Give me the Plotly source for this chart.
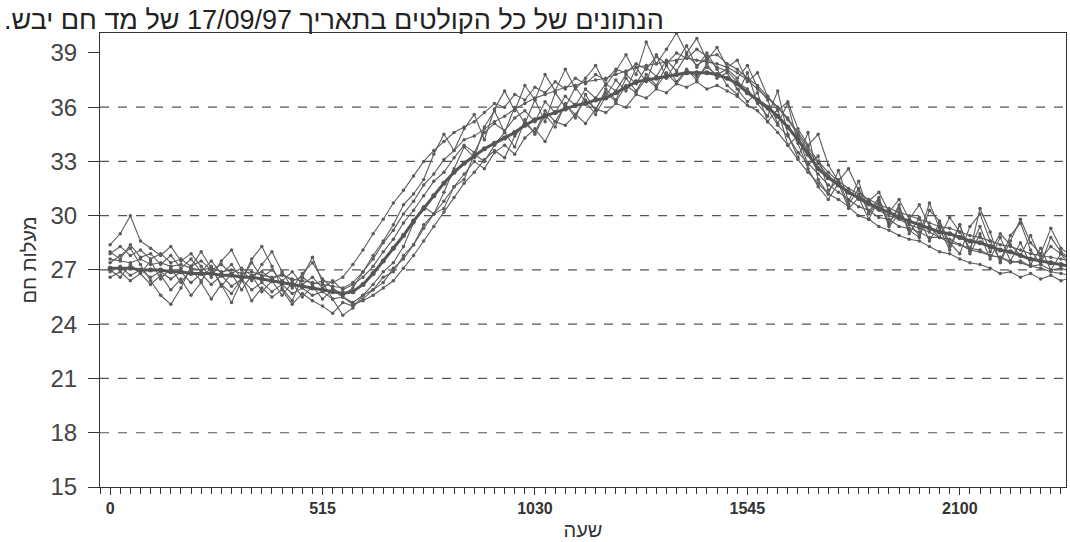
import plotly.graph_objects as go

# time index: 96 quarter-hours of the day (0 = 00:00 ... 95 = 23:45)
x_idx = list(range(96))
tick_pos = [0, 21, 42, 63, 84]
tick_labels = ["0", "515", "1030", "1545", "2100"]
y_ticks = [15, 18, 21, 24, 27, 30, 33, 36, 39]
grid_vals = [18, 21, 24, 27, 30, 33, 36]

mean_line = [
    27.1, 27.1, 27.1, 27.0, 27.0, 27.0, 26.9, 26.9, 26.8, 26.8,
    26.8, 26.7, 26.7, 26.6, 26.6, 26.5, 26.4, 26.3, 26.2, 26.1,
    26.0, 25.9, 25.8, 25.7, 25.8, 26.2, 26.8, 27.5, 28.2, 28.9,
    29.7, 30.4, 31.1, 31.8, 32.4, 32.9, 33.3, 33.7, 34.0, 34.3,
    34.6, 35.0, 35.3, 35.5, 35.7, 35.9, 36.1, 36.2, 36.4, 36.5,
    36.8, 37.1, 37.4, 37.5, 37.6, 37.7, 37.8, 37.9, 37.9, 37.9,
    37.8, 37.6, 37.3, 36.8, 36.4, 36.0, 35.5, 34.9, 34.2, 33.4,
    32.6, 32.1, 31.7, 31.3, 31.0, 30.7, 30.4, 30.2, 29.9, 29.7,
    29.5, 29.3, 29.1, 29.0, 28.8, 28.6, 28.5, 28.3, 28.1, 28.0,
    27.8, 27.6, 27.5, 27.4, 27.3, 27.2]

s1 = [
    28.4, 29.0, 30.0, 28.6, 28.2, 27.8, 28.3, 27.5, 27.9, 27.2,
    26.6, 27.5, 28.1, 27.0, 26.4, 27.3, 28.0, 26.9, 26.0, 26.8,
    27.4, 26.5, 26.0, 25.6, 26.0, 26.9, 27.8, 28.6, 29.5, 30.6,
    31.2, 32.0, 33.4, 34.5, 33.6, 34.8, 35.6, 34.2, 35.9, 36.9,
    35.8, 37.2, 36.4, 37.8, 36.9, 38.1, 37.0, 37.6, 38.3, 37.2,
    38.0, 38.9, 37.8, 39.6, 38.4, 39.2, 40.1, 39.0, 39.8, 38.6,
    39.3, 38.2, 38.6, 37.4, 37.9, 36.6, 35.8, 36.3, 34.8, 33.9,
    34.5, 32.8, 31.9, 32.6, 31.4, 30.8, 31.3, 30.2, 30.9, 29.8,
    30.6, 29.4, 28.8, 29.9, 29.1, 28.2, 29.4, 28.0, 29.0, 28.4,
    27.8, 28.9, 27.6, 28.3, 27.9, 27.5]

s2 = [
    26.6, 26.9, 26.4, 26.8, 26.2, 26.7, 25.9, 26.5, 25.6, 26.3,
    25.4, 26.2, 25.7, 26.5, 25.3, 26.0, 25.5, 25.9, 25.1, 25.7,
    25.3, 25.0, 24.6, 25.2, 25.0, 25.4, 25.9, 26.3, 27.1, 27.6,
    28.4, 29.3, 30.1, 30.8, 31.6, 32.3, 33.0, 32.6, 33.5, 33.9,
    33.4, 34.3, 34.8, 34.1, 35.2, 35.0, 35.6, 35.1, 35.9, 35.7,
    36.2, 36.0, 36.7, 36.5, 37.0, 36.8, 37.3, 37.1, 37.4, 37.0,
    37.2, 36.9, 36.6, 36.1, 35.8, 35.2, 34.6, 33.9, 33.1, 32.4,
    31.8, 31.2, 30.9, 30.5, 30.0, 29.8, 29.4, 29.2, 28.9, 28.7,
    28.6, 28.3, 28.0, 27.9, 27.6, 27.4, 27.3, 27.1, 26.8, 26.9,
    26.6, 26.8, 26.5, 26.7, 26.4, 26.6]

s3 = [
    27.4, 27.8, 28.2, 27.3, 26.4, 25.6, 25.1, 26.0, 27.2, 28.0,
    27.1, 26.2, 25.2, 26.4, 27.6, 28.3, 27.2, 26.0, 25.3, 26.6,
    27.7, 26.3, 25.4, 24.5, 24.9, 25.6, 26.2, 26.9, 27.4, 28.3,
    29.6, 30.5, 30.1, 31.3, 32.6, 33.8, 33.2, 34.9, 35.8, 34.6,
    36.0, 35.1, 36.4, 35.2, 36.8, 36.0, 37.1, 36.3, 35.6, 36.6,
    37.5, 36.9, 38.2, 37.4, 38.9, 37.6, 38.5, 39.4, 38.2, 39.0,
    38.1, 37.2, 36.7, 37.9, 36.2, 35.5, 36.9, 34.5, 33.2, 34.6,
    32.0, 31.2, 32.5, 30.8, 31.9, 30.2, 31.0, 29.6, 30.4, 29.2,
    28.8, 30.3, 29.7, 28.5, 27.9, 29.4, 30.1, 28.6, 27.5, 28.9,
    29.6, 28.1, 27.3, 28.8, 28.0, 27.6]

s4 = [
    27.6, 27.5, 27.4, 27.6, 27.3, 27.4, 27.2, 27.3, 27.1, 27.0,
    27.1, 26.9, 27.0, 26.8, 26.9, 26.7, 26.6, 26.7, 26.5, 26.4,
    26.3, 26.2, 26.1, 26.0, 26.3, 26.9, 27.6, 28.5, 29.2, 30.1,
    30.8, 31.7, 32.3, 33.1, 33.6, 34.2, 34.4, 34.8, 35.2, 35.5,
    35.9, 36.2, 36.5, 36.7, 36.9, 37.1, 37.2, 37.4, 37.5, 37.6,
    37.8, 38.0, 38.2, 38.3, 38.4, 38.5, 38.6, 38.7, 38.6, 38.5,
    38.4, 38.2, 37.9, 37.5, 37.0, 36.5, 36.0, 35.4, 34.6, 33.8,
    33.0, 32.4, 31.9, 31.5, 31.2, 30.9, 30.6, 30.4, 30.2, 30.0,
    29.8, 29.6, 29.4, 29.3, 29.1, 28.9, 28.8, 28.6, 28.4, 28.3,
    28.1, 27.9, 27.8, 27.7, 27.6, 27.5]

s5 = [
    27.0, 26.6, 27.3, 26.8, 27.5, 26.5, 27.1, 26.3, 27.0, 26.4,
    27.2, 26.1, 26.8, 25.9, 26.7, 25.8, 26.4, 25.6, 26.3, 25.5,
    26.1, 25.4, 25.9, 25.5, 25.2, 25.6, 25.9, 26.6, 26.9, 27.8,
    28.4, 29.5, 30.1, 30.4, 31.6, 32.0, 33.4, 33.0, 33.9, 34.6,
    33.8, 35.3, 34.5, 35.6, 34.9, 36.2, 35.4, 36.7, 35.8, 37.0,
    36.4, 37.6, 36.9, 37.8, 37.2, 38.3, 37.4, 38.1, 37.5, 38.4,
    37.6, 37.9, 37.0, 36.3, 36.8, 35.2, 35.9, 33.9, 34.4, 32.8,
    33.3, 31.4, 32.0, 30.6, 31.5, 30.1, 30.8, 29.5, 30.6, 29.0,
    29.9, 28.6, 29.6, 28.3, 29.5, 27.9, 29.0, 27.6, 28.8, 27.5,
    28.5, 27.3, 28.2, 27.0, 27.9, 27.1]

s6 = [
    27.9, 28.3, 27.8, 28.1, 27.6, 27.9, 27.4, 27.6, 27.2, 27.5,
    27.0, 27.3, 26.8, 27.1, 26.7, 26.9, 26.5, 26.8, 26.4, 26.6,
    26.2, 26.4, 26.3, 26.6, 27.3, 28.1, 29.0, 29.8, 30.7, 31.4,
    32.2, 33.0, 33.6, 34.1, 34.6, 34.9, 35.2, 35.7, 36.2, 36.0,
    36.7, 36.4, 37.1, 36.8, 37.4, 37.0, 37.6, 37.3, 37.8, 37.5,
    38.1, 37.9, 38.4, 38.1, 38.8, 38.4, 39.0, 38.7, 39.2, 38.8,
    38.9, 38.4, 38.1, 37.6, 37.2, 36.6, 36.0, 35.3, 34.5, 33.6,
    32.9, 32.2, 31.8, 31.3, 30.9, 30.6, 30.3, 30.0, 29.8, 29.5,
    29.3, 29.1, 28.8, 28.7, 28.4, 28.2, 28.1, 27.8, 27.7, 27.5,
    27.4, 27.2, 27.1, 26.9, 26.8, 26.7]

s7 = [
    26.9, 27.2, 26.7, 27.0, 26.6, 26.9, 26.5, 26.9, 26.3, 26.8,
    26.2, 26.7, 26.1, 26.5, 25.9, 26.3, 25.8, 26.2, 25.7, 26.0,
    25.6, 25.8, 25.4, 25.5, 25.1, 25.3, 25.6, 26.0, 26.4, 27.1,
    27.8, 28.6, 29.4, 30.2, 31.0, 31.8, 32.4, 33.1, 33.6, 33.2,
    34.4, 35.1, 34.6, 35.8, 35.2, 36.1, 35.6, 36.4, 35.9, 36.8,
    36.3, 37.2, 36.8, 37.6, 37.1, 37.9, 37.3, 38.0, 37.7, 38.2,
    37.8, 38.1, 37.6, 38.3, 37.1, 36.4, 35.1, 36.2, 34.0, 32.6,
    31.6, 30.9, 31.8, 30.4, 31.0, 29.8, 30.9, 29.4, 30.1, 29.6,
    28.9, 30.7, 29.3, 28.1, 29.5, 28.0, 30.4, 29.1, 27.4, 28.6,
    29.8, 28.5, 27.9, 29.3, 28.2, 27.8]

s8 = [
    28.0, 27.6, 28.4, 27.7, 27.9, 27.3, 27.8, 27.1, 27.6, 26.9,
    27.5, 26.8, 27.3, 26.5, 27.4, 26.6, 27.0, 26.4, 26.9, 26.2,
    26.6, 26.0, 26.4, 25.9, 26.2, 26.6, 27.2, 28.0, 28.7, 29.6,
    30.3, 31.1, 31.9, 32.4, 33.2, 33.9, 33.5, 34.6, 35.1, 34.7,
    35.4, 35.8, 35.2, 36.3, 35.7, 36.6, 36.1, 37.0, 36.5, 37.3,
    36.9, 37.8, 37.3, 38.2, 37.7, 38.6, 38.0, 38.9, 38.3, 38.7,
    38.2, 38.0, 37.4, 37.0, 36.3, 35.9, 35.0, 34.4, 33.5, 32.9,
    32.3, 31.7, 31.3, 30.9, 30.5, 30.3, 29.9, 29.8, 29.4, 29.3,
    29.1, 28.8, 28.8, 28.5, 28.4, 28.1, 28.0, 27.8, 27.7, 27.4,
    27.5, 27.2, 27.3, 27.0, 27.1, 26.9]

series = [s1, s2, s3, s4, s5, s6, s7, s8]

title_text = "הנתונים של כל הקולטים בתאריך 17/09/97 של מד חם יבש.\u200F"
x_title = "שעה"
y_title = "מעלות חם"

LINE = "#5c5c5c"
FONT = "Liberation Sans, Arial, sans-serif"

fig = go.Figure()
for s in series:
    fig.add_trace(go.Scatter(
        x=x_idx, y=s, mode="lines+markers",
        line=dict(color=LINE, width=1.1),
        marker=dict(color=LINE, size=3.5),
        showlegend=False, hoverinfo="skip"))
fig.add_trace(go.Scatter(
    x=x_idx, y=mean_line, mode="lines+markers",
    line=dict(color="#555555", width=3),
    marker=dict(color="#555555", size=5),
    showlegend=False, hoverinfo="skip"))

for g in grid_vals:
    fig.add_shape(type="line", xref="x domain", yref="y",
                  x0=0, x1=1, y0=g, y1=g,
                  line=dict(color="#555555", width=1.2, dash="dash"),
                  layer="below")

fig.add_annotation(
    text=title_text, xref="paper", yref="paper",
    x=-0.101, y=1.0, xanchor="left", yanchor="bottom", yshift=-4,
    showarrow=False, font=dict(family=FONT, size=27, color="#222222"))

fig.update_layout(
    width=1070, height=542,
    margin=dict(l=100, r=4, t=33, b=55),
    paper_bgcolor="white", plot_bgcolor="white",
    font=dict(family=FONT, color="#333333"),
    xaxis=dict(
        range=[-1, 94.5],
        tickmode="array", tickvals=tick_pos,
        ticktext=["<b>%s</b>" % t for t in tick_labels],
        tickfont=dict(family="Liberation Sans Narrow, Liberation Sans, Arial", size=16, color="#333333"),
        ticks="outside", ticklen=7, tickcolor="#333333",
        minor=dict(dtick=1, tick0=0, ticks="outside", ticklen=6, tickcolor="#333333"),
        showgrid=False, zeroline=False,
        showline=True, mirror=True, linecolor="#333333", linewidth=1,
        title=dict(text=x_title, font=dict(size=20, color="#333333"), standoff=6),
    ),
    yaxis=dict(
        range=[15, 40.1],
        tickmode="array", tickvals=y_ticks,
        tickfont=dict(size=24, color="#444444"),
        ticks="outside", ticklen=11, tickcolor="#333333",
        ticklabelstandoff=6,
        showgrid=False, zeroline=False,
        showline=True, mirror=True, linecolor="#333333", linewidth=1,
        title=dict(text=y_title, font=dict(size=20, color="#333333"), standoff=8),
    ),
)

fig.write_html("out.html")
